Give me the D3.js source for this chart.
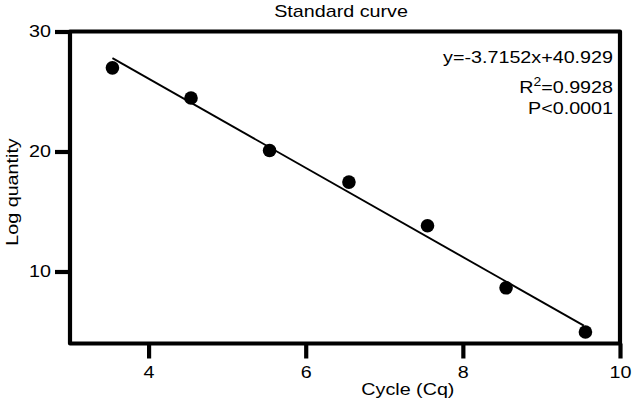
<!DOCTYPE html>
<html>
<head>
<meta charset="utf-8">
<script src="https://cdn.jsdelivr.net/npm/d3@7"></script>
<style>
  body { margin: 0; background: #fff; }
  svg { display: block; }
  text { font-family: "Liberation Sans", Arial, Helvetica, sans-serif; fill: #000; }
</style>
</head>
<body>
<svg width="632" height="407"></svg>
<script>
// data
const cycles = [3.54, 4.54, 5.54, 6.55, 7.55, 8.55, 9.56];
const logQuantity = [26.97, 24.46, 20.08, 17.45, 13.81, 8.64, 4.96];
const slope = -3.7152;
const intercept = 40.929;
const xTicks = [4, 6, 8, 10];
const yTicks = [10, 20, 30];
const statLines = ['y=-3.7152x+40.929', 'R2=0.9928', 'P<0.0001'];

const svg = d3.select('svg');
const width = +svg.attr('width');
const height = +svg.attr('height');
const margin = {top: 31.5, right: 12, bottom: 63.5, left: 70};

const sx = 1.16; // text in the source is a bit wide
const fs = 17;
const axisW = 4.2;

const x = d3.scaleLinear().domain([3, 10]).range([margin.left, width - margin.right]);
const y = d3.scaleLinear().domain([4, 30]).range([height - margin.bottom, margin.top]);

// title
svg.append('text')
    .attr('transform', `translate(341,17) scale(${sx},1)`)
    .attr('text-anchor', 'middle')
    .style('font-size', fs + 'px')
    .text('Standard curve');

// frame
svg.append('rect')
    .attr('x', x(3)).attr('y', y(30))
    .attr('width', x(10) - x(3)).attr('height', y(4) - y(30))
    .style('fill', 'none')
    .style('stroke', '#000')
    .style('stroke-width', axisW + 'px')
    .style('stroke-linejoin', 'round');

// axes
const yAxis = svg.append('g')
    .attr('transform', `translate(${x(3)},0)`)
    .call(d3.axisLeft(y).tickValues(yTicks).tickFormat(d3.format('d')).tickSize(15).tickPadding(1.5));
const xAxis = svg.append('g')
    .attr('transform', `translate(0,${y(4)})`)
    .call(d3.axisBottom(x).tickValues(xTicks).tickFormat(d3.format('d')).tickSize(15).tickPadding(7.5));

[xAxis, yAxis].forEach(ax => {
    ax.select('.domain').remove();
    ax.selectAll('line').style('stroke', '#000').style('stroke-width', axisW + 'px');
    ax.selectAll('text')
        .style('font-size', fs + 'px')
        .attr('fill', '#000')
        .attr('transform', `scale(${sx},1)`);
});
xAxis.selectAll('text').attr('x', 0);

// axis titles
svg.append('text')
    .attr('transform', `translate(${x(7.3)},395) scale(${sx},1)`)
    .attr('text-anchor', 'middle')
    .style('font-size', fs + 'px')
    .text('Cycle (Cq)');

svg.append('text')
    .attr('transform', `translate(18,192) rotate(-90) scale(${sx},1)`)
    .attr('text-anchor', 'middle')
    .style('font-size', fs + 'px')
    .text('Log quantity');

// regression line
const xr = d3.extent(cycles);
svg.append('line')
    .attr('x1', x(xr[0])).attr('y1', y(slope * xr[0] + intercept))
    .attr('x2', x(xr[1] - 0.02)).attr('y2', y(slope * (xr[1] - 0.02) + intercept))
    .style('stroke', '#000')
    .style('stroke-width', '1.9px');

// points
svg.append('g').selectAll('circle')
    .data(cycles.map((c, i) => [c, logQuantity[i]]))
    .join('circle')
    .attr('cx', d => x(d[0]))
    .attr('cy', d => y(d[1]))
    .attr('r', 6.8)
    .style('fill', '#000');

// fit statistics
const stats = svg.append('g').style('font-size', fs + 'px');
stats.append('text')
    .attr('transform', `translate(613,63) scale(${sx},1)`)
    .attr('text-anchor', 'end')
    .text(statLines[0]);
const r2 = stats.append('text')
    .attr('transform', `translate(613,93) scale(${sx},1)`)
    .attr('text-anchor', 'end');
r2.append('tspan').text('R');
r2.append('tspan').attr('dy', -7).style('font-size', '12px').text('2');
r2.append('tspan').attr('dy', 7).text(statLines[1].slice(2));
stats.append('text')
    .attr('transform', `translate(613,114) scale(${sx},1)`)
    .attr('text-anchor', 'end')
    .text(statLines[2]);
</script>
</body>
</html>
